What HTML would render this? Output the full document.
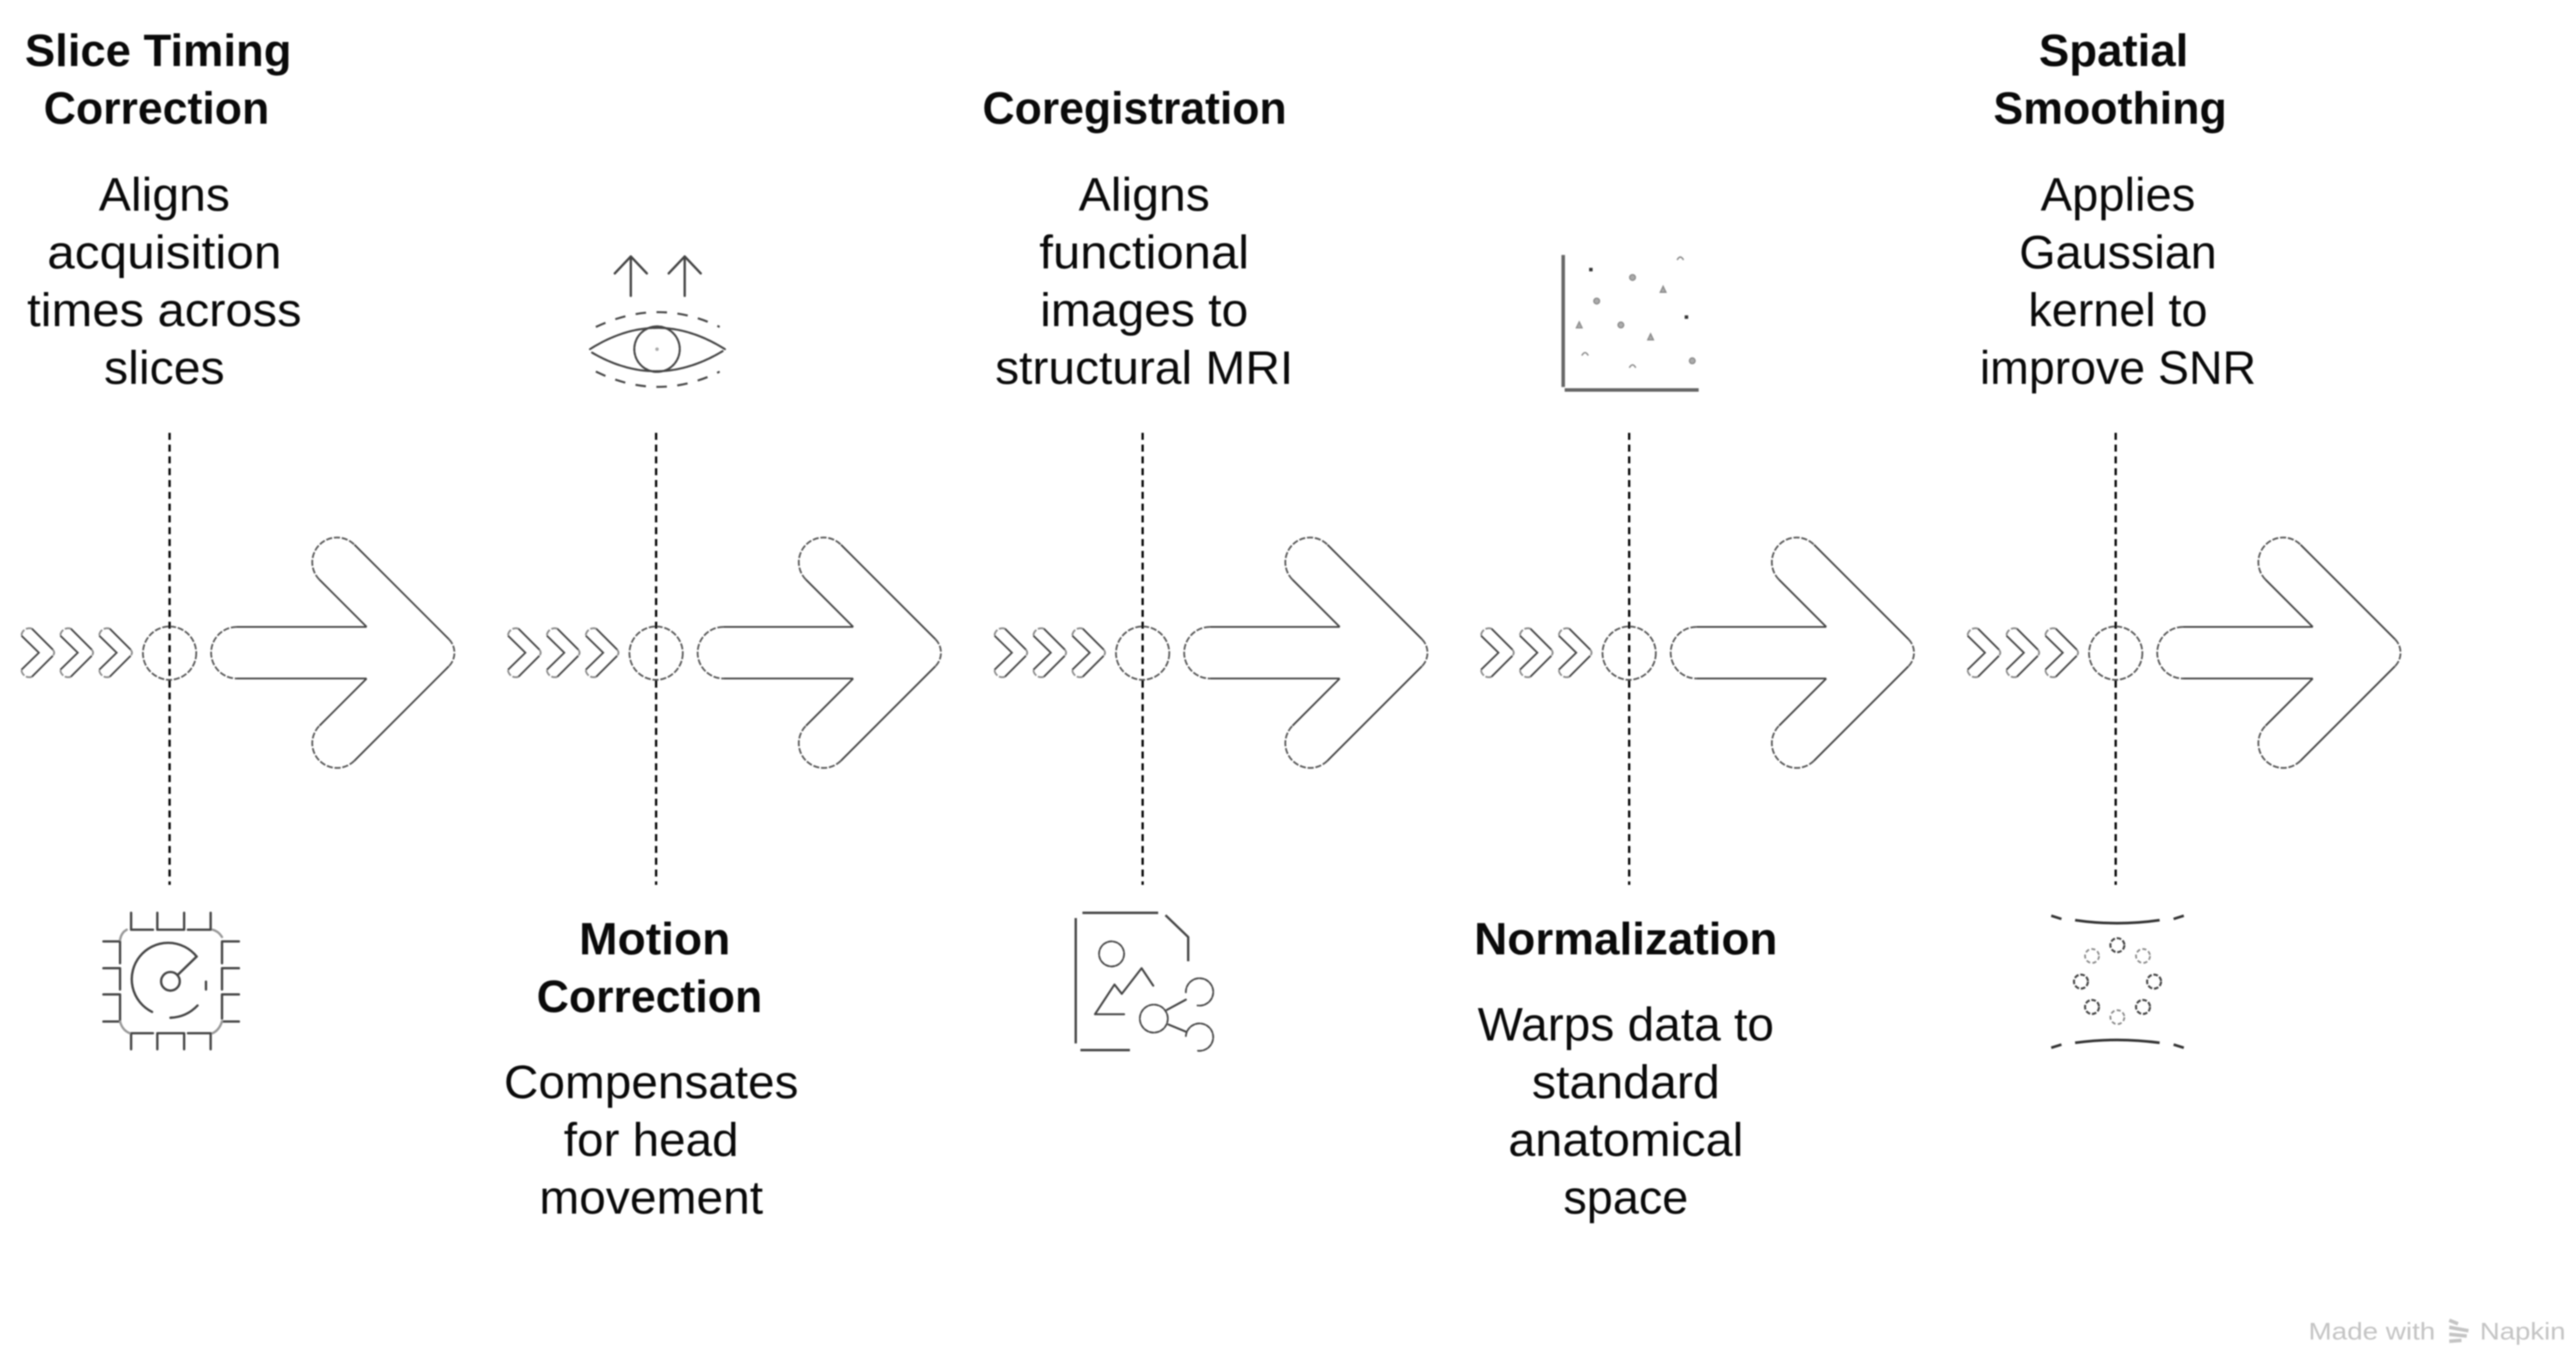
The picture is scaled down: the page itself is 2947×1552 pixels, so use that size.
<!DOCTYPE html>
<html><head><meta charset="utf-8"><style>
html,body{margin:0;padding:0;background:#fff}
svg{display:block;filter:blur(.9px)}
text{font-family:"Liberation Sans",sans-serif;fill:#0a0a0a;text-anchor:middle}
.h{font-weight:700;font-size:52px}
.b{font-size:54px}
.w{font-size:28px;fill:#c4c4c4;text-anchor:start}
.s{fill:none;stroke:#444;stroke-width:2}
.c{fill:none;stroke:#555;stroke-width:2;stroke-dasharray:7 2}
.d{fill:none;stroke:#000;stroke-width:2.6;stroke-dasharray:8 5.5}
.i{fill:none;stroke:#444;stroke-width:8;stroke-linecap:round;stroke-linejoin:round}
</style></head><body>
<svg width="2947" height="1552" viewBox="0 0 2947 1552" xmlns="http://www.w3.org/2000/svg">
<rect width="2947" height="1552" fill="#fff"/>
<defs>
<g id="chev" transform="translate(-1.500 0)">
<path class="s" d="M38 719L62 743M62 750L38 774M26 766L46 746.500L26 727"/>
<path class="c" stroke-dasharray="4 2" style="stroke:#888" d="M38 719A9 9 0 0 0 26 727M38 774A9 9 0 0 1 26 766M62 743Q65 746.500 62 750"/>
</g>
<g id="col">
<path class="d" d="M194 495V1012"/>
<circle cx="194" cy="747" r="30.500" class="c"/>
<use href="#chev"/><use href="#chev" x="44.500"/><use href="#chev" x="89"/>
<path class="s" stroke-width="2.500" d="M271 717H419.500M271 776H419.500"/>
<path class="s" d="M419.500 717L365.500 663M405.500 623L513.500 731M513.500 762L405.500 870M365.500 830L419.500 776"/>
<path class="c" d="M271 717A29.500 29.500 0 0 0 271 776M365.500 663A28 28 0 0 1 405.500 623M513.500 731A22 22 0 0 1 513.500 762M405.500 870A28 28 0 0 1 365.500 830"/>
</g>
</defs>
<use href="#col"/><use href="#col" x="556.600"/><use href="#col" x="1113.200"/><use href="#col" x="1669.800"/><use href="#col" x="2226.400"/>

<!-- Column 1 -->
<text class="h" x="181" y="75.500" textLength="305" lengthAdjust="spacingAndGlyphs">Slice Timing</text>
<text class="h" x="179" y="141.500" textLength="258" lengthAdjust="spacingAndGlyphs">Correction</text>
<text class="b" x="188" y="241" textLength="150" lengthAdjust="spacingAndGlyphs">Aligns</text>
<text class="b" x="188" y="307" textLength="268" lengthAdjust="spacingAndGlyphs">acquisition</text>
<text class="b" x="188" y="373" textLength="314" lengthAdjust="spacingAndGlyphs">times across</text>
<text class="b" x="188" y="439" textLength="138" lengthAdjust="spacingAndGlyphs">slices</text>

<!-- Column 2 -->
<text class="h" x="749" y="1091.500" textLength="173" lengthAdjust="spacingAndGlyphs">Motion</text>
<text class="h" x="743" y="1157.500" textLength="258" lengthAdjust="spacingAndGlyphs">Correction</text>
<text class="b" x="745" y="1256" textLength="337" lengthAdjust="spacingAndGlyphs">Compensates</text>
<text class="b" x="745" y="1322" textLength="200" lengthAdjust="spacingAndGlyphs">for head</text>
<text class="b" x="745" y="1388" textLength="256" lengthAdjust="spacingAndGlyphs">movement</text>

<!-- Column 3 -->
<text class="h" x="1298" y="141.500" textLength="348" lengthAdjust="spacingAndGlyphs">Coregistration</text>
<text class="b" x="1309" y="241" textLength="150" lengthAdjust="spacingAndGlyphs">Aligns</text>
<text class="b" x="1309" y="307" textLength="240" lengthAdjust="spacingAndGlyphs">functional</text>
<text class="b" x="1309" y="373" textLength="238" lengthAdjust="spacingAndGlyphs">images to</text>
<text class="b" x="1309" y="439" textLength="341" lengthAdjust="spacingAndGlyphs">structural MRI</text>

<!-- Column 4 -->
<text class="h" x="1860" y="1091.500" textLength="347" lengthAdjust="spacingAndGlyphs">Normalization</text>
<text class="b" x="1860" y="1190" textLength="339" lengthAdjust="spacingAndGlyphs">Warps data to</text>
<text class="b" x="1860" y="1256" textLength="215" lengthAdjust="spacingAndGlyphs">standard</text>
<text class="b" x="1860" y="1322" textLength="269" lengthAdjust="spacingAndGlyphs">anatomical</text>
<text class="b" x="1860" y="1388" textLength="143" lengthAdjust="spacingAndGlyphs">space</text>

<!-- Column 5 -->
<text class="h" x="2418" y="75.500" textLength="171" lengthAdjust="spacingAndGlyphs">Spatial</text>
<text class="h" x="2414" y="141.500" textLength="267" lengthAdjust="spacingAndGlyphs">Smoothing</text>
<text class="b" x="2423" y="241" textLength="177" lengthAdjust="spacingAndGlyphs">Applies</text>
<text class="b" x="2423" y="307" textLength="226" lengthAdjust="spacingAndGlyphs">Gaussian</text>
<text class="b" x="2423" y="373" textLength="205" lengthAdjust="spacingAndGlyphs">kernel to</text>
<text class="b" x="2423" y="439" textLength="316" lengthAdjust="spacingAndGlyphs">improve SNR</text>

<!-- Chip icon -->
<g transform="translate(80 1020) scale(.3333)" class="i">
<path d="M210 72V130H285M300 72V130H390M392 72V130M405 130H483V72M115 170H172V245M115 262H172V335M115 352H172V440M115 445H172M522 170H580M522 170V245M522 262H580M522 262V335M522 352H580M522 352V435M522 445H580M210 540V485H285M300 540V485H390M392 540V485M405 485H483V540"/>
<path stroke="#999" d="M172 165Q176 140 195 130M522 155Q510 135 490 130M172 445Q180 475 205 485M522 445Q512 475 490 485"/>
<path d="M435 222A125 125 0 1 0 282 412M345 432Q400 430 438 390M467 308V335"/>
<circle cx="345" cy="307" r="32"/>
<path d="M370 285L435 222"/>
</g>

<!-- Eye icon -->
<g transform="translate(650 270) scale(.3333)" class="i">
<path d="M215 205V70M160 128L215 70L270 128M400 205V70M345 128L400 70L455 128"/>
<g stroke-width="7">
<path stroke-dasharray="18 3" d="M75 388Q305 242 538 388"/>
<path stroke-dasharray="18 3" d="M82 400Q305 530 530 395"/>
<circle cx="305" cy="388" r="78" stroke-dasharray="10 4"/>
<path stroke-dasharray="36 36" stroke-linecap="butt" d="M95 312Q310 210 520 312"/>
<path stroke-dasharray="36 36" stroke-linecap="butt" d="M95 465Q310 570 520 465"/>
</g>
<circle cx="305" cy="388" r="6" fill="#aaa" stroke="none"/>
</g>

<!-- File share icon -->
<g transform="translate(1200 1020) scale(.3333)" class="i" stroke-width="10" stroke="#555">
<path stroke-linecap="butt" d="M115 72H375M400 80L478 155V238M92 90V520M108 543H278"/>
<path stroke-width="7" d="M258 420H158L225 318L250 350L318 262L358 322M405 405L470 370M410 455L470 480"/>
<g stroke-width="6" stroke-dasharray="14 5">
<circle cx="215" cy="213" r="43"/>
<circle cx="360" cy="435" r="48"/>
<path d="M470 345A47 47 0 1 1 510 390"/>
<path d="M470 495A47 47 0 1 1 510 545"/>
</g>
</g>

<!-- Scatter icon -->
<g transform="translate(1760 270) scale(.3333)">
<path d="M85 65V518M90 528H550" style="fill:none;stroke:#666;stroke-width:12"/>
<g fill="#333"><rect x="174" y="109" width="12" height="12"/><rect x="502" y="272" width="12" height="12"/></g>
<g fill="#aaa" stroke="#888" stroke-width="4">
<circle cx="323" cy="142" r="10"/><circle cx="200" cy="223" r="10"/><circle cx="283" cy="305" r="10"/><circle cx="528" cy="428" r="10"/>
<path d="M418 193L428 172L438 193ZM130 315L140 294L150 315ZM375 356L385 335L395 356Z"/>
</g>
<g fill="none" stroke="#888" stroke-width="5">
<path d="M476 82Q487 62 498 82M149 410Q160 390 171 410M312 452Q323 432 334 452"/>
</g>
</g>

<!-- Gaussian icon -->
<g transform="translate(2320 1020) scale(.3333)">
<g fill="none" stroke="#333" stroke-width="9">
<path d="M162 97Q305 118 452 97"/>
<path d="M80 82L115 93M500 93L535 82"/>
<path d="M162 518Q305 498 452 518"/>
<path d="M80 535L115 524M500 524L535 535"/>
</g>
<g fill="none" stroke="#444" stroke-width="7" stroke-dasharray="16 6">
<circle cx="307" cy="183" r="24"/><circle cx="182" cy="308" r="24"/><circle cx="433" cy="308" r="24"/>
<circle cx="220" cy="395" r="24"/><circle cx="395" cy="395" r="24"/>
</g>
<g fill="none" stroke="#888" stroke-width="6" stroke-dasharray="14 8">
<circle cx="220" cy="220" r="24"/><circle cx="395" cy="220" r="24"/><circle cx="307" cy="430" r="24"/>
</g>
</g>

<!-- Watermark -->
<text class="w" x="2641" y="1532" textLength="145" lengthAdjust="spacingAndGlyphs">Made with</text>
<path fill="none" stroke="#c4c4c4" stroke-width="4" d="M2802 1510L2812 1514M2802 1518L2824 1522M2802 1526L2822 1528M2802 1534L2816 1533"/>
<text class="w" x="2837" y="1532" textLength="98" lengthAdjust="spacingAndGlyphs">Napkin</text>
</svg>
</body></html>
